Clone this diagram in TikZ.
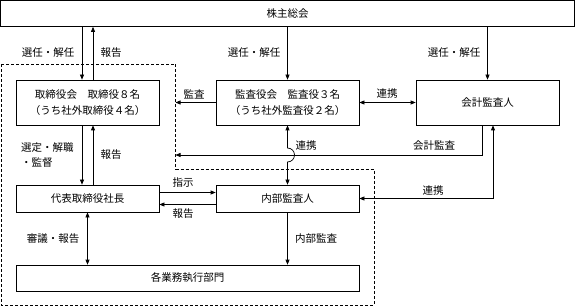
\documentclass[tikz,border=0pt]{standalone}
\usepackage{fontspec}
\setmainfont{Noto Sans CJK JP}
\usepackage{tikz}
\usetikzlibrary{arrows.meta,calc,positioning}
\newcommand{\orgfont}{\fontsize{10.5}{15.5}\selectfont}
\tikzset{
  orgbox/.style={draw,line width=0.7pt,minimum width=143pt,inner sep=0pt,align=center,font=\orgfont},
  orglbl/.style={font=\orgfont,inner sep=0pt},
  arr/.style={-{Triangle[length=5pt,width=4pt]},line width=0.7pt},
  darr/.style={{Triangle[length=5pt,width=4pt]}-{Triangle[length=5pt,width=4pt]},line width=0.7pt},
  frame/.style={line width=0.7pt,dash pattern=on 3pt off 2pt}
}

\begin{document}
\begin{tikzpicture}[x=1pt,y=1pt]
  \useasboundingbox (0,0) rectangle (575,-307);
  % boxes
  \node[orgbox,minimum width=574pt,minimum height=26pt] (gm) at (287.5,-13.5) {株主総会};
  \node[orgbox,minimum height=45pt] (board) at (87.5,-102.5) {取締役会　取締役８名\\（うち社外取締役４名）};
  \node[orgbox,minimum height=45pt] (kansa) at (287.5,-102.5) {監査役会　監査役３名\\（うち社外監査役２名）};
  \node[orgbox,minimum height=45pt] (kaikei) at (487.5,-102.5) {会計監査人};
  \node[orgbox,minimum height=27pt] (pres) at (87.5,-198.5) {代表取締役社長};
  \node[orgbox,minimum height=27pt] (ia) at (287.5,-198.5) {内部監査人};
  \node[orgbox,minimum width=343pt,minimum height=26pt] (ops) at (187.5,-278) {各業務執行部門};
  % dashed frame
  \coordinate (fNW) at (1,-64);
  \coordinate (fNE) at (175.5,-64);
  \coordinate (fM) at (175.5,-169.5);
  \coordinate (fME) at (374,-169.5);
  \coordinate (fSE) at (374,-305);
  \coordinate (fSW) at (1,-305);
  \draw[frame] (fNW) -- (fNE) -- (fM) -- (fME) -- (fSE) -- (fSW) -- cycle;
  % helper points
  \coordinate (bL) at ([xshift=-5.5pt]board.south);
  \coordinate (bR) at ([xshift=5.5pt]board.south);
  \coordinate (kaL) at ([xshift=-5.5pt]kaikei.south);
  \coordinate (kaR) at ([xshift=5.5pt]kaikei.south);
  \coordinate (auY) at (0,-155);
  % connectors
  \draw[arr] (bL |- gm.south) -- (bL |- board.north);
  \draw[arr] (bR |- board.north) -- (bR |- gm.south);
  \draw[arr] (gm.south -| kansa.north) -- (kansa.north);
  \draw[arr] (gm.south -| kaikei.north) -- (kaikei.north);
  \draw[arr] (kansa.west) -- (kansa.west -| fNE);
  \draw[darr] (kansa.east) -- (kaikei.west);
  \draw[arr] (kaL) -- (kaL |- auY) -- (auY -| fNE);
  \draw[darr] (ia.east) -| (kaR);
  \draw[darr] (kansa.south) -- ($(kansa.south |- auY)+(0,7)$) arc[start angle=90,end angle=-90,radius=7] -- (ia.north);
  \draw[arr] (bL) -- (bL |- pres.north);
  \draw[arr] (bR |- pres.north) -- (bR);
  \draw[arr] ([yshift=6pt]pres.east) -- ([yshift=6pt]ia.west);
  \draw[arr] ([yshift=-6pt]ia.west) -- ([yshift=-6pt]pres.east);
  \draw[darr] (pres.south) -- (pres.south |- ops.north);
  \draw[arr] (ia.south) -- (ia.south |- ops.north);
  % labels
  \node[orglbl] (lSel1) at (48,-53) {選任・解任};
  \node[orglbl] (lRep1) at (111,-53) {報告};
  \node[orglbl] (lSel2) at (254,-53) {選任・解任};
  \node[orglbl] (lSel3) at (454,-53) {選任・解任};
  \node[orglbl] (lAud) at (194,-94) {監査};
  \node[orglbl] (lCoop1) at (387,-94) {連携};
  \node[orglbl,align=left,anchor=west] (lAppt) at (21,-155) {選定・解職\\・監督};
  \node[orglbl] (lRep2) at (111,-155) {報告};
  \node[orglbl] (lCoop2) at (306,-146) {連携};
  \node[orglbl] (lAcc) at (434,-146) {会計監査};
  \node[orglbl] (lCoop3) at (433,-191) {連携};
  \node[orglbl] (lInst) at (183,-183) {指示};
  \node[orglbl] (lRep3) at (183,-214) {報告};
  \node[orglbl] (lDel) at (53,-239) {審議・報告};
  \node[orglbl] (lIaud) at (316,-239) {内部監査};
\end{tikzpicture}
\end{document}
